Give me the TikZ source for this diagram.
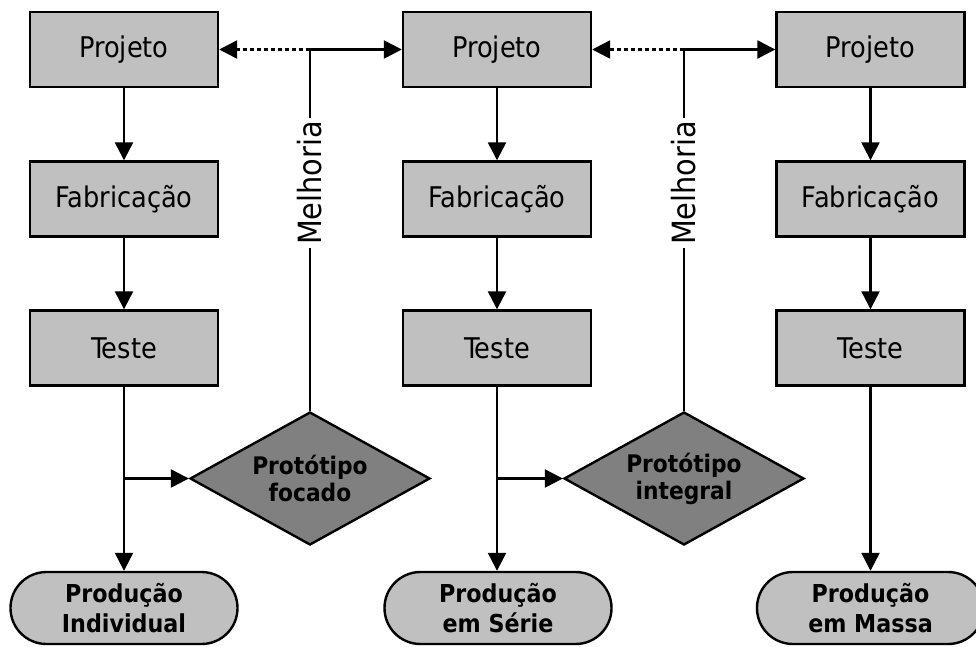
\documentclass[tikz,border=0pt]{standalone}
\usepackage{fontspec}
\setmainfont{DejaVu Sans Condensed}
\usetikzlibrary{shapes.geometric,arrows.meta}
\definecolor{boxgray}{HTML}{C0C0C0}
\definecolor{diagray}{HTML}{808080}
\begin{document}
\begin{tikzpicture}[x=1pt,y=-1pt,
  line width=2.4pt, line join=miter,
  arr/.style={-{Triangle[length=18pt,width=18pt]}},
  stepbox/.style={draw, fill=boxgray, minimum width=188pt, minimum height=75pt, inner sep=0pt,
     font=\fontsize{28.5}{32}\selectfont},
  decis/.style={draw, fill=diagray, diamond, aspect=1.8, minimum width=240pt, minimum height=133pt,
     inner sep=0pt, align=center, font=\bfseries\fontsize{24.2}{27}\selectfont},
  term/.style={draw, fill=boxgray, rounded corners=35.9pt, minimum width=227pt, minimum height=72pt,
     inner sep=0pt, align=center, font=\bfseries\fontsize{24.7}{30}\selectfont},
  lbl/.style={fill=white, rotate=90, inner xsep=3pt, inner ysep=0pt, font=\fontsize{32}{34}\selectfont}]
\path[use as bounding box, clip] (0,0) rectangle (976,646);

% column 1
\node[stepbox] (p1) at (124,49.5) {Projeto};
\node[stepbox] (f1) at (124,199) {Fabricação};
\node[stepbox] (t1) at (124,348) {Teste};
\node[term] (r1) at (124,608) {Produção\\Individual};
\node[decis] (d1) at (310,478.5) {Protótipo\\focado};

% column 2
\node[stepbox] (p2) at (497,49.5) {Projeto};
\node[stepbox] (f2) at (497,199) {Fabricação};
\node[stepbox] (t2) at (497,348) {Teste};
\node[term] (r2) at (498,608) {Produção\\em Série};
\node[decis] (d2) at (684,478.5) {Protótipo\\integral};

% column 3
\node[stepbox] (p3) at (870.5,49.5) {Projeto};
\node[stepbox] (f3) at (870.5,199) {Fabricação};
\node[stepbox] (t3) at (870.5,348) {Teste};
\node[term] (r3) at (870.5,608) {Produção\\em Massa};

% vertical flows
\foreach \c in {1,2,3} {
  \draw[arr] (p\c) -- (f\c);
  \draw[arr] (f\c) -- (t\c);
  \draw[arr] (t\c) -- (r\c.north -| t\c.south);
}

% branches to prototypes
\coordinate (b1) at (t1.south |- d1.west);
\coordinate (b2) at (t2.south |- d2.west);
\draw[arr] (b1) -- (d1.west);
\draw[arr] (b2) -- (d2.west);

% improvement loops
\coordinate (c1) at (d1.north |- p1.east);
\coordinate (c2) at (d2.north |- p2.east);
\draw (d1.north) -- (c1);
\draw (d2.north) -- (c2);
\draw[arr] (c1) -- (p2.west);
\draw[arr] (c2) -- (p3.west);
\draw[arr, dash pattern=on 4pt off 3pt] (c1) -- (p1.east);
\draw[arr, dash pattern=on 4pt off 3pt] (c2) -- (p2.east);

\node[lbl] (m1) at (310,183) {Melhoria};
\node[lbl] (m2) at (684,183) {Melhoria};
\end{tikzpicture}
\end{document}
